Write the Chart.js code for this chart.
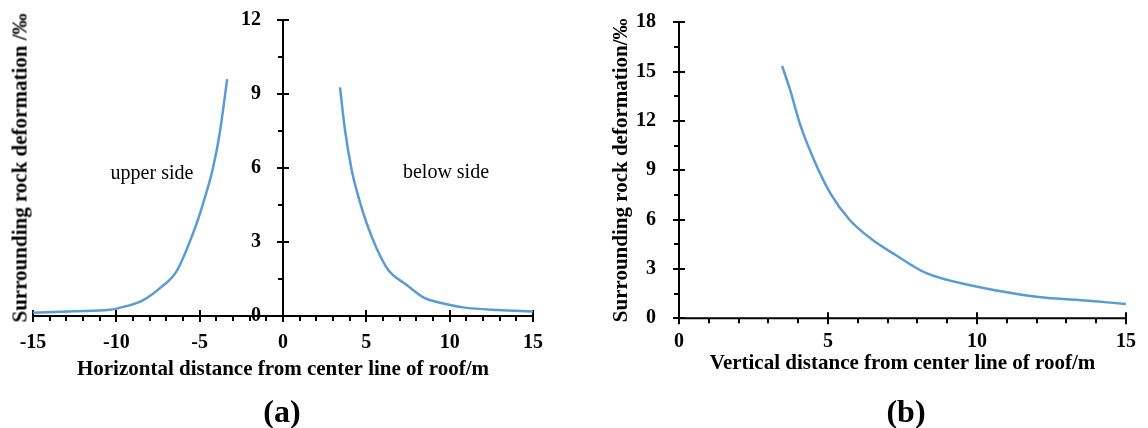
<!DOCTYPE html>
<html>
<head>
<meta charset="utf-8">
<script src="https://cdn.jsdelivr.net/npm/chart.js@4"></script>
<style>
  body { margin: 0; background: #fff; }
  #wrap { position: relative; width: 1148px; height: 428px; overflow: hidden; font-family: 'Liberation Serif', 'Times New Roman', serif; color: #000; }
  canvas { position: absolute; top: 0; }
  .lbl { position: absolute; white-space: nowrap; transform: translate(-50%, -50%); }
  .bold { font-weight: bold; }
</style>
</head>
<body>
<div id="wrap">
  <canvas id="grafico_a" width="560" height="428" style="left:0px"></canvas>
  <canvas id="grafico_b" width="558" height="428" style="left:590px"></canvas>
  <div class="lbl bold" style="left:20px; top:168px; font-size:21px; transform: translate(-50%,-50%) rotate(-90deg);">Surrounding rock deformation /‰</div>
  <div class="lbl" style="left:152px; top:172px; font-size:20px;">upper side</div>
  <div class="lbl" style="left:446px; top:171px; font-size:20px;">below side</div>
  <div class="lbl bold" style="left:282px; top:411px; font-size:32px;">(a)</div>
  <div class="lbl bold" style="left:906px; top:411px; font-size:32px;">(b)</div>
</div>
<script>
// dati (a): lato superiore e lato inferiore
var upper_x = [-15, -12.5, -10.4, -9.4, -8.5, -7.4, -6.4, -5.4, -4.8, -4.2, -3.8, -3.35];
var upper_y = [0.13, 0.19, 0.25, 0.4, 0.6, 1.12, 1.8, 3.35, 4.55, 6.0, 7.4, 9.6];
var below_x = [3.42, 3.72, 4.12, 4.52, 5.02, 5.62, 6.32, 7.42, 8.52, 9.62, 10.82, 12.9, 15];
var below_y = [9.27, 7.54, 5.92, 4.84, 3.76, 2.74, 1.86, 1.26, 0.72, 0.51, 0.35, 0.24, 0.18];

// dati del grafico (b): distanza verticale
var vert_x = [3.46, 3.71, 4.09, 4.53, 5.08, 5.73, 6.5, 7.27, 8.26, 9.9, 11.55, 12.31, 13.74, 15];
var vert_y = [15.35, 13.99, 11.65, 9.63, 7.6, 5.98, 4.76, 3.85, 2.78, 1.96, 1.42, 1.25, 1.07, 0.87];

// etichette degli assi
var ticks_a_x = [-15, -10, -5, 0, 5, 10, 15];
var ticks_a_y = [0, 3, 6, 9, 12];
var ticks_b_x = [0, 5, 10, 15];
var ticks_b_y = [0, 3, 6, 9, 12, 15, 18];

var blu = '#5b9bd5';

function font(size) {
  return { family: "'Liberation Serif', 'Times New Roman', serif", size: size, weight: 'bold' };
}

function punti(xs, ys) {
  var out = [];
  for (var i = 0; i < xs.length; i++) {
    out.push({ x: xs[i], y: ys[i] });
  }
  return out;
}

function fissa_ticks(valori) {
  return function (scale) {
    scale.ticks = valori.map(function (v) { return { value: v }; });
  };
}

// disegna gli assi con tacche principali (che attraversano) e secondarie (fuori)
var assi_plugin = {
  id: 'assi',
  beforeDatasetsDraw: function (chart, args, opts) {
    var ctx = chart.ctx;
    var xs = chart.scales.x;
    var ys = chart.scales.y;
    var x0 = xs.getPixelForValue(opts.yAt);
    var y0 = ys.getPixelForValue(0);
    ctx.save();
    ctx.strokeStyle = '#000';
    ctx.lineWidth = 2;
    ctx.beginPath();
    ctx.moveTo(xs.left, y0); ctx.lineTo(xs.right, y0);
    ctx.moveTo(x0, ys.top); ctx.lineTo(x0, ys.bottom);
    var v, p;
    for (v = xs.min; v <= xs.max + 0.001; v += 1) {
      p = Math.round(xs.getPixelForValue(v));
      if (Math.abs(v % 5) < 0.001) {
        ctx.moveTo(p, y0 - 6); ctx.lineTo(p, y0 + 6);
      } else {
        ctx.moveTo(p, y0); ctx.lineTo(p, y0 + 5);
      }
    }
    for (v = ys.min; v <= ys.max + 0.001; v += 1.5) {
      p = Math.round(ys.getPixelForValue(v));
      if (Math.abs(v % 3) < 0.001) {
        ctx.moveTo(x0 - 6, p); ctx.lineTo(x0 + 6, p);
      } else {
        ctx.moveTo(x0 - 5, p); ctx.lineTo(x0, p);
      }
    }
    ctx.stroke();
    ctx.restore();
  }
};

function serie(dati) {
  return {
    data: dati,
    showLine: true,
    borderColor: blu,
    borderWidth: 2.5,
    pointRadius: 0,
    cubicInterpolationMode: 'monotone',
    fill: false
  };
}

// GRAFICO (a)
new Chart(document.getElementById('grafico_a'), {
  type: 'scatter',
  data: {
    datasets: [serie(punti(upper_x, upper_y)), serie(punti(below_x, below_y))]
  },
  plugins: [assi_plugin],
  options: {
    responsive: false,
    animation: false,
    layout: { padding: { left: 33, right: 27, top: 20, bottom: 45.4 } },
    plugins: { legend: { display: false }, tooltip: { enabled: false }, assi: { yAt: 0 } },
    scales: {
      x: {
        type: 'linear', min: -15, max: 15,
        afterBuildTicks: fissa_ticks(ticks_a_x),
        afterFit: function (s) { s.height = 66.6; },
        grid: { display: false, drawTicks: false },
        border: { display: false },
        ticks: { font: font(20), color: '#000', padding: 15, maxRotation: 0, autoSkip: false },
        title: { display: true, text: 'Horizontal distance from center line of roof/m', font: font(21), color: '#000', padding: 0 }
      },
      y: {
        type: 'linear', min: 0, max: 12,
        // le etichette stanno un po' a sinistra dell'asse che passa per x = 0
        position: { x: -1.32 },
        afterBuildTicks: fissa_ticks(ticks_a_y),
        afterFit: function (s) { s.width = 0; },
        grid: { display: false, drawTicks: false },
        border: { display: false },
        ticks: { font: font(20), color: '#000', padding: 0 }
      }
    }
  }
});

// GRAFICO (b)
new Chart(document.getElementById('grafico_b'), {
  type: 'scatter',
  data: {
    datasets: [serie(punti(vert_x, vert_y))]
  },
  plugins: [assi_plugin],
  options: {
    responsive: false,
    animation: false,
    layout: { padding: { left: 19.4, right: 13, top: 22.3, bottom: 51.4 } },
    plugins: { legend: { display: false }, tooltip: { enabled: false }, assi: { yAt: 0 } },
    scales: {
      x: {
        type: 'linear', min: 0, max: 15,
        afterBuildTicks: fissa_ticks(ticks_b_x),
        afterFit: function (s) { s.height = 58.3; },
        grid: { display: false, drawTicks: false },
        border: { display: false },
        ticks: { font: font(20), color: '#000', padding: 12, maxRotation: 0, autoSkip: false },
        title: { display: true, text: 'Vertical distance from center line of roof/m', font: font(21), color: '#000', padding: 0 }
      },
      y: {
        type: 'linear', min: 0, max: 18,
        position: 'left',
        afterBuildTicks: fissa_ticks(ticks_b_y),
        afterFit: function (s) { s.width = 69.6; },
        // spazio tra asse ed etichette dato come lunghezza tacca (griglia nascosta)
        grid: { display: false, drawTicks: true, tickLength: 23 },
        border: { display: false },
        ticks: { font: font(20), color: '#000', padding: 0 },
        title: { display: true, text: 'Surrounding rock deformation/‰', font: font(21), color: '#000', padding: 0 }
      }
    }
  }
});
</script>
</body>
</html>
